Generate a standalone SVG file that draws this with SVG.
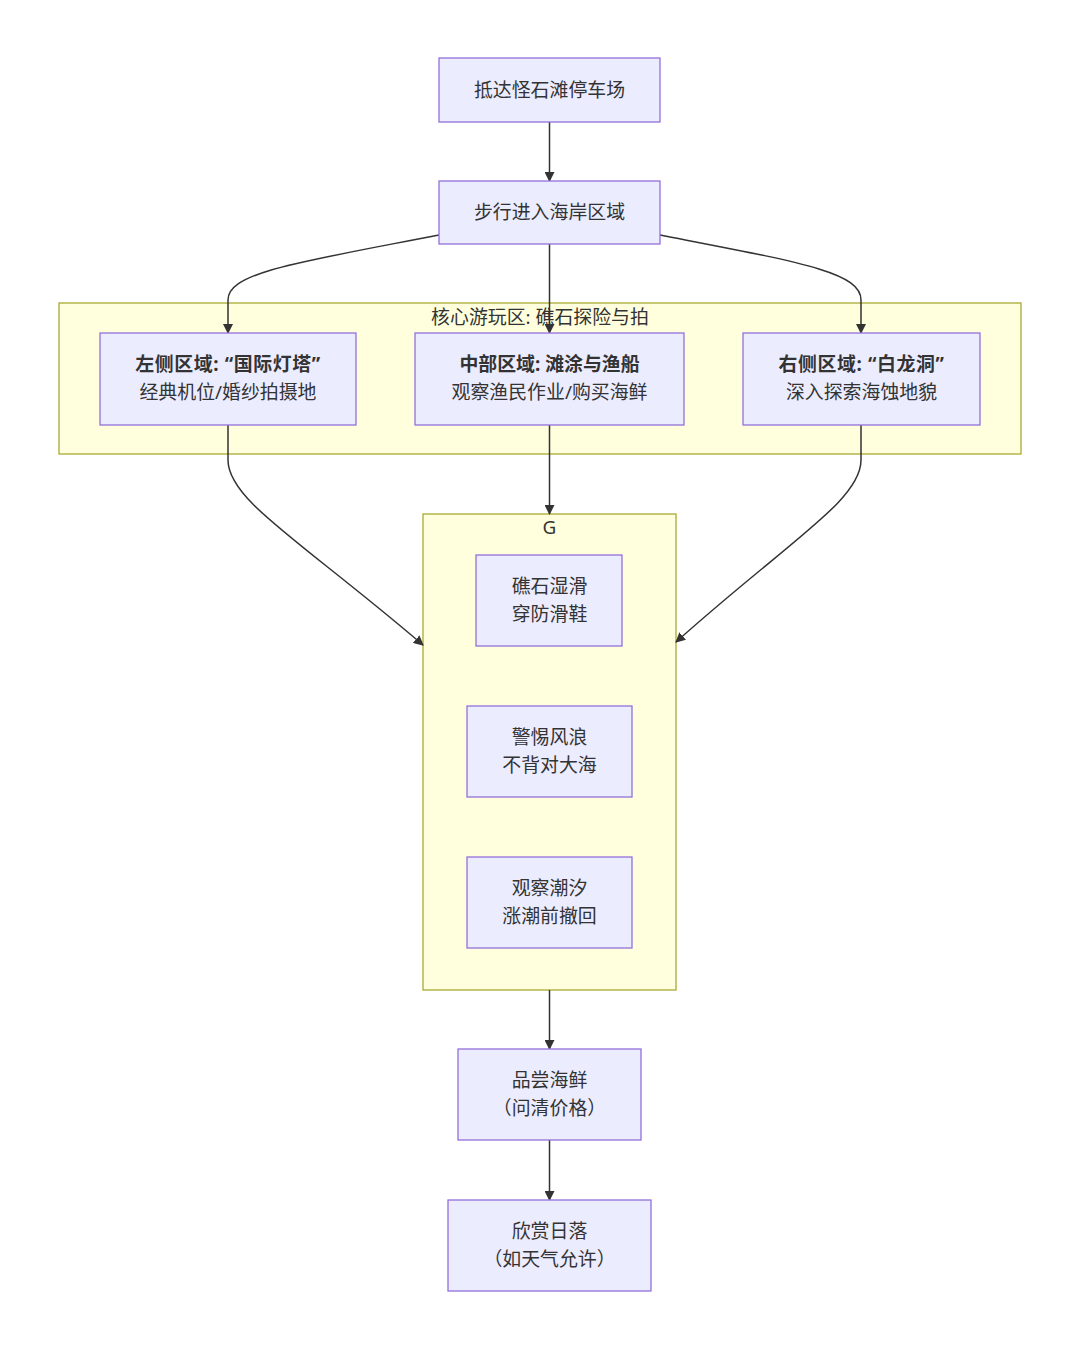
<svg xmlns="http://www.w3.org/2000/svg" width="1080" height="1350" viewBox="0 0 1080 1350">
<defs>
<marker id="arrow" viewBox="0 0 10 10" refX="9" refY="5" markerWidth="10" markerHeight="10" markerUnits="userSpaceOnUse" orient="auto">
<path d="M0,0 L10,5 L0,10 z" fill="#333333"/>
</marker>
<style>
.node rect{fill:#ECECFF;stroke:#9370DB;stroke-width:1.3}
.cluster rect{fill:#ffffde;stroke:#aaaa33;stroke-width:1.3}
text{font-family:"Noto Sans","Noto Sans CJK SC",sans-serif;font-size:18.9px;fill:#333333;text-anchor:middle;dominant-baseline:central}
.b{font-weight:bold}
.q{letter-spacing:0.6px}
.edges path{fill:none;stroke:#333333;stroke-width:1.5;marker-end:url(#arrow)}
</style>
</defs>
<rect width="1080" height="1350" fill="#ffffff"/>
<g id="cluster-core" class="cluster">
<rect x="59" y="303" width="962" height="151"/>
<text x="540" y="317">核心游玩区: 礁石探险与拍</text>
</g>
<g id="cluster-G" class="cluster">
<rect x="423" y="514" width="253" height="476"/>
<text x="549.5" y="527">G</text>
</g>
<g class="edges" id="edges">
<path d="M549.5,122 L549.5,181"/>
<path d="M439,235 C300,262 228,272 228,300 L228,333"/>
<path d="M549.5,244 L549.5,333"/>
<path d="M660,235 C799,262 861,272 861,300 L861,333"/>
<path d="M228,425 L228,460 C228,500 300,540 423,645"/>
<path d="M549.5,425 L549.5,514"/>
<path d="M861,425 L861,460 C861,500 790,540 676,642"/>
<path d="M549.5,990 L549.5,1049"/>
<path d="M549.5,1140 L549.5,1200"/>
</g>
<g id="node-A" class="node">
<rect x="439" y="58" width="221" height="64"/>
<text x="549.5" y="90">抵达怪石滩停车场</text>
</g>
<g id="node-B" class="node">
<rect x="439" y="181" width="221" height="63"/>
<text x="549.5" y="212">步行进入海岸区域</text>
</g>
<g id="node-left" class="node">
<rect x="100" y="333" width="256" height="92"/>
<text class="b q" x="228" y="364">左侧区域: “国际灯塔”</text>
<text x="228" y="392">经典机位/婚纱拍摄地</text>
</g>
<g id="node-mid" class="node">
<rect x="415" y="333" width="269" height="92"/>
<text class="b" x="549.5" y="364">中部区域: 滩涂与渔船</text>
<text x="549.5" y="392">观察渔民作业/购买海鲜</text>
</g>
<g id="node-right" class="node">
<rect x="743" y="333" width="237" height="92"/>
<text class="b q" x="861.5" y="364">右侧区域: “白龙洞”</text>
<text x="861.5" y="392">深入探索海蚀地貌</text>
</g>
<g id="node-G1" class="node">
<rect x="476" y="555" width="146" height="91"/>
<text x="549.5" y="586">礁石湿滑</text>
<text x="549.5" y="614">穿防滑鞋</text>
</g>
<g id="node-G2" class="node">
<rect x="467" y="706" width="165" height="91"/>
<text x="549.5" y="737">警惕风浪</text>
<text x="549.5" y="765">不背对大海</text>
</g>
<g id="node-G3" class="node">
<rect x="467" y="857" width="165" height="91"/>
<text x="549.5" y="888">观察潮汐</text>
<text x="549.5" y="916">涨潮前撤回</text>
</g>
<g id="node-food" class="node">
<rect x="458" y="1049" width="183" height="91"/>
<text x="549.5" y="1080">品尝海鲜</text>
<text x="549.5" y="1108">（问清价格）</text>
</g>
<g id="node-sunset" class="node">
<rect x="448" y="1200" width="203" height="91"/>
<text x="549.5" y="1231">欣赏日落</text>
<text x="549.5" y="1259">（如天气允许）</text>
</g>
</svg>
